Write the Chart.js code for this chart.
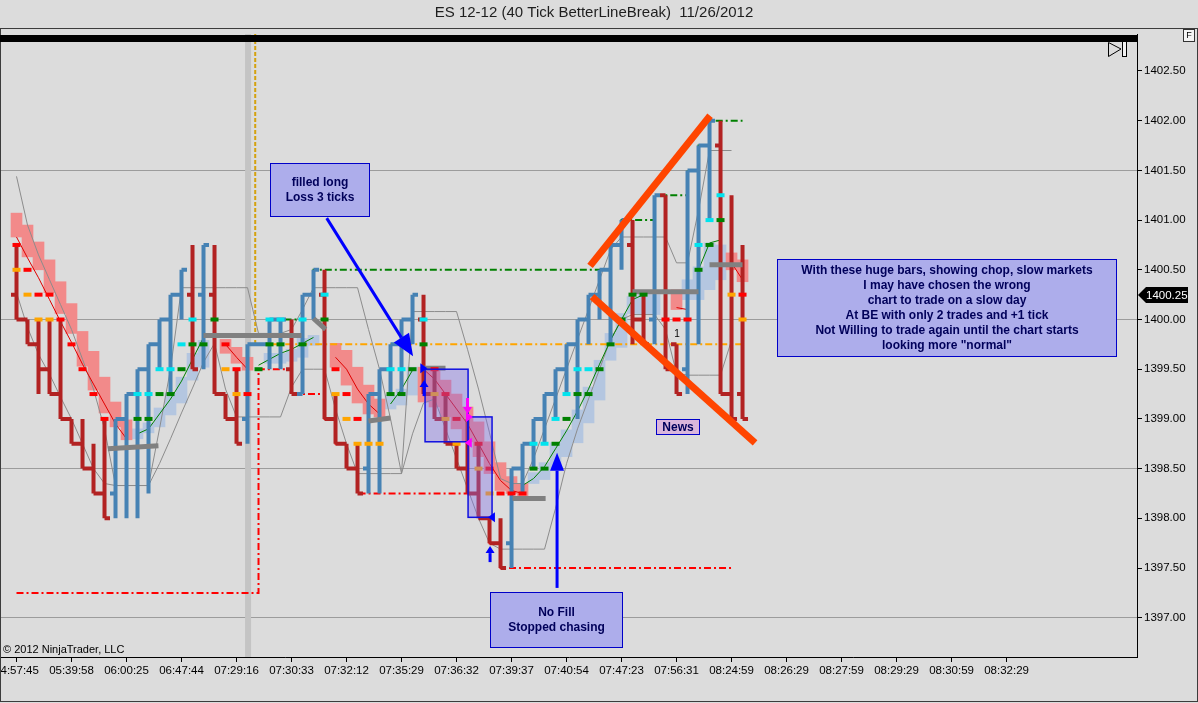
<!DOCTYPE html>
<html>
<head>
<meta charset="utf-8">
<title>ES 12-12 (40 Tick BetterLineBreak) 11/26/2012</title>
<script src="https://cdn.jsdelivr.net/npm/chart.js@4.4.1/dist/chart.umd.min.js"></script>
<style>
  html, body { margin: 0; padding: 0; background: #dcdcdc; }
  canvas { display: block; }
</style>
</head>
<body>
<canvas id="es-chart" width="1198" height="703"></canvas>
<script>
var chartTitle = 'ES 12-12 (40 Tick BetterLineBreak)  11/26/2012';

// axis labels, one every 5 bars
var timeLabels = ['04:57:45', '05:39:58', '06:00:25', '06:47:44', '07:29:16', '07:30:33', '07:32:12',
    '07:35:29', '07:36:32', '07:39:37', '07:40:54', '07:47:23', '07:56:31', '08:24:59', '08:26:29',
    '08:27:59', '08:29:29', '08:30:59', '08:32:29'];

// line break bars
var barOpen = [
    1400.25, 1400.00, 1399.75, 1399.50, 1399.25, 1399.00, 1398.75, 1398.50, 1398.25, 1398.25,
    1399.00, 1399.25, 1399.50, 1399.75, 1400.00, 1400.25, 1400.25, 1400.25, 1400.25, 1399.25,
    1399.00, 1399.00, 1399.75, 1399.75, 1400.00, 1399.50, 1399.25, 1400.25, 1400.25, 1399.00,
    1398.75, 1398.50, 1398.50, 1399.25, 1399.50, 1399.75, 1400.00, 1400.00, 1399.25, 1399.00,
    1398.75, 1398.50, 1398.25, 1398.00, 1397.75, 1397.75, 1398.50, 1398.75, 1399.00, 1399.25,
    1399.50, 1399.75, 1400.00, 1400.25, 1400.50, 1400.75, 1400.75, 1400.00, 1400.00, 1401.25,
    1399.75, 1399.50, 1401.50, 1401.75, 1401.75, 1399.25, 1399.25];
var barHigh = [
    1400.75, 1400.00, 1400.00, 1400.00, 1400.00, 1399.00, 1399.00, 1398.75, 1399.00, 1399.00,
    1399.25, 1399.50, 1399.75, 1400.00, 1400.25, 1400.50, 1400.75, 1400.75, 1400.75, 1399.25,
    1399.50, 1399.75, 1399.75, 1400.00, 1400.00, 1400.00, 1400.25, 1400.50, 1400.50, 1399.25,
    1398.75, 1398.75, 1399.25, 1399.50, 1399.75, 1400.00, 1400.25, 1400.25, 1399.50, 1399.25,
    1398.75, 1399.00, 1398.75, 1398.00, 1398.00, 1398.50, 1398.75, 1399.00, 1399.25, 1399.50,
    1399.75, 1400.00, 1400.25, 1400.50, 1400.75, 1401.00, 1401.00, 1400.25, 1401.25, 1401.25,
    1399.75, 1401.50, 1401.75, 1402.00, 1402.00, 1401.25, 1400.75];
var barLow = [
    1400.00, 1399.75, 1399.25, 1399.25, 1399.00, 1398.75, 1398.50, 1398.25, 1398.00, 1398.00,
    1398.00, 1398.00, 1398.25, 1399.50, 1399.25, 1400.00, 1399.50, 1399.50, 1399.25, 1399.00,
    1398.75, 1398.75, 1399.75, 1399.50, 1399.50, 1399.25, 1399.25, 1400.00, 1399.00, 1398.75,
    1398.50, 1398.25, 1398.25, 1398.25, 1399.25, 1399.25, 1399.75, 1399.25, 1399.00, 1398.75,
    1398.50, 1398.25, 1398.00, 1397.75, 1397.50, 1397.50, 1398.25, 1398.50, 1398.75, 1399.00,
    1399.25, 1399.00, 1399.75, 1400.00, 1399.75, 1400.50, 1399.75, 1399.75, 1399.75, 1399.50,
    1399.25, 1399.25, 1399.75, 1401.00, 1399.25, 1399.00, 1399.00];
var barClose = [
    1400.00, 1399.75, 1399.50, 1399.25, 1399.00, 1398.75, 1398.50, 1398.25, 1398.00, 1399.00,
    1399.25, 1399.50, 1399.75, 1400.00, 1400.25, 1400.50, 1399.50, 1400.75, 1399.25, 1399.00,
    1398.75, 1399.75, 1399.75, 1400.00, 1400.00, 1399.25, 1400.25, 1400.50, 1399.00, 1398.75,
    1398.50, 1398.25, 1399.25, 1399.50, 1399.75, 1400.00, 1400.25, 1399.25, 1399.00, 1398.75,
    1398.50, 1398.25, 1398.00, 1397.75, 1397.50, 1398.50, 1398.75, 1399.00, 1399.25, 1399.50,
    1399.75, 1400.00, 1400.25, 1400.50, 1400.75, 1401.00, 1400.00, 1399.75, 1401.25, 1399.50,
    1399.25, 1401.50, 1401.75, 1402.00, 1399.25, 1399.00, 1399.00];

// indicator state per bar: 1 long side, -1 short side
var trend = [
    -1, -1, -1, -1, -1, -1, -1, -1, -1, 1,
    1, 1, 1, 1, 1, 1, 1, 1, 1, -1,
    -1, -1, 1, 1, 1, 1, 1, 1, 1, -1,
    -1, -1, -1, -1, 1, 1, 1, 1, -1, -1,
    -1, -1, -1, -1, -1, -1, -1, 1, 1, 1,
    1, 1, 1, 1, 1, 1, 1, 1, 1, -1,
    -1, -1, 1, 1, 1, -1, -1];

// stop dashes (near one: cyan/orange, far one: green/red)
var stopNear = [
    1400.50, 1400.25, 1400.00, 1400.00, null, null, null, null, null, null,
    null, 1399.25, 1399.25, 1399.50, 1399.50, 1399.75, 1400.00, null, null, 1399.50,
    1399.25, null, null, 1400.00, 1400.00, null, 1400.00, null, 1400.25, 1399.25,
    1399.00, 1398.75, 1398.75, 1398.75, 1399.50, 1399.50, null, 1400.00, 1399.25, 1399.00,
    1398.75, null, 1398.50, 1398.25, null, null, null, 1398.75, 1398.75, 1399.00,
    1399.25, 1399.50, 1399.50, null, null, null, null, null, null, null,
    null, null, 1400.75, 1401.00, 1401.25, 1400.25, 1400.00];
var stopFar = [
    1400.75, 1400.50, 1400.25, 1400.25, 1400.00, 1399.75, 1399.50, 1399.25, 1399.00, null,
    null, 1399.00, 1399.00, 1399.25, 1399.25, 1399.50, 1399.75, 1399.75, 1400.00, 1399.75,
    1399.50, 1399.25, 1399.50, 1399.75, 1399.75, null, 1399.75, null, 1400.00, 1399.50,
    1399.25, 1399.00, null, null, 1399.25, 1399.25, 1399.50, 1399.75, 1399.50, 1399.25,
    1399.00, null, 1398.75, 1398.50, 1398.25, 1398.25, 1398.25, 1398.50, 1398.50, 1398.75,
    1399.00, 1399.25, 1399.25, 1399.50, 1399.75, 1400.00, 1400.25, 1400.25, null, 1400.00,
    1400.00, 1400.00, 1400.50, 1400.75, 1401.00, null, 1400.25];

// shaded trend blocks
var pinkLo = [
    1400.83, 1400.63, 1400.50, 1400.27, 1400.06, 1399.86, 1399.53, 1399.29, 1399.06, 1398.92,
    1398.79, null, null, null, null, null, null, null, null, 1399.66,
    1399.56, 1399.49, null, null, null, null, null, null, null, 1399.52,
    1399.34, 1399.16, 1399.05, 1399.02, null, null, null, 1399.17, 1399.12, 1399.02,
    1398.90, 1398.77, 1398.62, 1398.45, 1398.28, 1398.25, 1398.22, null, null, null,
    null, null, null, null, null, null, null, null, null, null,
    1400.10, null, null, null, null, 1400.50, 1400.38];
var pinkHi = [
    1401.07, 1400.95, 1400.78, 1400.60, 1400.38, 1400.16, 1399.88, 1399.68, 1399.42, 1399.17,
    1398.99, null, null, null, null, null, null, null, null, 1399.80,
    1399.72, 1399.62, null, null, null, null, null, null, null, 1399.76,
    1399.69, 1399.52, 1399.34, 1399.20, null, null, null, 1399.52, 1399.50, 1399.39,
    1399.25, 1399.12, 1398.97, 1398.77, 1398.56, 1398.42, 1398.35, null, null, null,
    null, null, null, null, null, null, null, null, null, null,
    1400.30, null, null, null, null, 1400.67, 1400.60];
var blueLo = [
    null, null, null, null, null, null, null, null, null, null,
    null, 1398.80, 1398.86, 1398.92, 1399.04, 1399.16, 1399.39, 1399.52, null, null,
    null, null, null, 1399.56, 1399.56, 1399.58, 1399.62, 1399.74, null, null,
    null, null, null, null, 1399.10, 1399.14, 1399.24, null, null, null,
    null, null, null, null, null, null, null, 1398.35, 1398.39, 1398.49,
    1398.62, 1398.76, 1398.96, 1399.19, 1399.59, 1399.72, 1400.06, 1400.05, 1400.05, null,
    null, 1400.20, 1400.20, 1400.30, 1400.40, null, null];
var blueHi = [
    null, null, null, null, null, null, null, null, null, null,
    null, 1398.90, 1398.96, 1399.11, 1399.26, 1399.42, 1399.66, 1399.79, null, null,
    null, null, null, 1399.66, 1399.66, 1399.70, 1399.81, 1399.84, null, null,
    null, null, null, null, 1399.24, 1399.30, 1399.52, null, null, null,
    null, null, null, null, null, null, null, 1398.46, 1398.56, 1398.76,
    1398.89, 1399.09, 1399.32, 1399.59, 1399.86, 1400.06, 1400.23, 1400.25, 1400.25, null,
    null, 1400.40, 1400.53, 1400.77, 1400.75, null, null];

// thin averages inside the blocks
var avgDown = [
    1400.83, 1400.62, 1400.42, 1400.20, 1399.98, 1399.77, 1399.55, 1399.35, 1399.15, 1398.95,
    1398.80, null, null, null, null, null, null, null, null, 1399.75,
    1399.62, 1399.50, null, null, null, null, null, null, null, 1399.62,
    1399.50, 1399.30, 1399.15, 1399.05, null, null, null, 1399.50, 1399.40, 1399.25,
    1399.10, 1398.95, 1398.75, 1398.55, 1398.38, 1398.28, 1398.25, null, null, null,
    null, null, null, null, null, null, null, null, null, null,
    1400.12, 1400.10, null, null, null, 1400.57, 1400.40];
var avgUp = [
    null, null, null, null, null, null, null, null, null, null,
    null, 1398.85, 1398.90, 1399.05, 1399.20, 1399.38, 1399.60, 1399.82, null, null,
    null, null, 1399.54, 1399.60, 1399.66, 1399.70, 1399.76, 1399.82, null, null,
    null, null, null, null, 1399.15, 1399.30, 1399.49, null, null, null,
    null, null, null, null, null, null, 1398.33, 1398.40, 1398.52, 1398.70,
    1398.88, 1399.08, 1399.30, 1399.55, 1399.79, 1400.00, 1400.20, 1400.25, null, null,
    null, null, 1400.50, 1400.77, 1400.80, null, null];

// thin grey channel
var bandUpper = [
    1401.44, 1400.95, 1400.65, 1400.40, 1400.15, 1399.90, 1399.60, 1399.30, 1398.90, 1398.33,
    1398.33, 1398.33, 1398.33, 1398.90, 1399.50, 1400.32, 1400.32, 1400.32, 1400.32, 1400.32,
    1400.32, 1400.32, 1399.86, 1399.86, 1399.86, 1399.90, 1400.10, 1400.32, 1400.32, 1400.32,
    1400.32, 1400.32, 1399.90, 1399.50, 1399.00, 1398.45, 1400.08, 1400.08, 1400.08, 1400.08,
    1400.08, 1399.70, 1399.30, 1398.86, 1398.40, 1398.35, 1398.35, 1398.60, 1398.90, 1399.20,
    1399.50, 1399.80, 1400.10, 1400.40, 1400.70, 1400.83, 1400.83, 1400.83, 1400.83, 1400.83,
    1400.57, 1400.57, 1401.10, 1401.70, 1401.70, 1401.70, null];
var bandLower = [
    1400.27, 1399.92, 1399.65, 1399.45, 1399.22, 1399.00, 1398.75, 1398.50, 1398.35, 1398.33,
    1398.33, 1398.33, 1398.33, 1398.55, 1398.80, 1399.06, 1399.31, 1399.57, 1399.76, 1399.30,
    1399.02, 1399.02, 1399.02, 1399.02, 1399.02, 1399.32, 1399.50, 1399.50, 1399.50, 1399.10,
    1398.75, 1398.45, 1398.45, 1398.45, 1398.45, 1398.45, 1398.85, 1399.16, 1399.20, 1398.90,
    1398.60, 1398.30, 1398.00, 1397.75, 1397.69, 1397.69, 1397.69, 1397.69, 1397.69, 1398.10,
    1398.55, 1398.90, 1399.20, 1399.50, 1399.80, 1400.00, 1400.05, 1400.05, 1400.05, 1399.90,
    1399.46, 1399.44, 1399.44, 1399.44, 1399.44, 1399.79, null];

// stepped highest high / lowest low
var highestHigh = [
    null, null, null, null, null, null, null, null, null, null,
    null, null, null, null, null, null, null, null, null, null,
    null, null, null, 1400.00, 1400.00, 1400.00, 1400.25, 1400.50, 1400.50, 1400.50,
    1400.50, 1400.50, 1400.50, 1400.50, 1400.50, 1400.50, 1400.50, 1400.50, 1400.50, 1400.50,
    1400.50, 1400.50, 1400.50, 1400.50, 1400.50, 1400.50, 1400.50, 1400.50, 1400.50, 1400.50,
    1400.50, 1400.50, 1400.50, 1400.50, 1400.75, 1401.00, 1401.00, 1401.00, 1401.25, 1401.25,
    1401.25, 1401.50, 1401.75, 1402.00, 1402.00, 1402.00, 1402.00];
var lowestLow = [
    1397.25, 1397.25, 1397.25, 1397.25, 1397.25, 1397.25, 1397.25, 1397.25, 1397.25, 1397.25,
    1397.25, 1397.25, 1397.25, 1397.25, 1397.25, 1397.25, 1397.25, 1397.25, 1397.25, 1397.25,
    1397.25, 1397.25, 1399.50, 1399.50, 1399.50, 1399.25, 1399.25, 1399.25, 1399.00, 1398.75,
    1398.50, 1398.25, 1398.25, 1398.25, 1398.25, 1398.25, 1398.25, 1398.25, 1398.25, 1398.25,
    1398.25, 1398.25, 1398.00, 1397.75, 1397.50, 1397.50, 1397.50, 1397.50, 1397.50, 1397.50,
    1397.50, 1397.50, 1397.50, 1397.50, 1397.50, 1397.50, 1397.50, 1397.50, 1397.50, 1397.50,
    1397.50, 1397.50, 1397.50, 1397.50, 1397.50, 1397.50, null];

// thick grey pivot marks
var pivotStart = [8.3, 17.0, 27.0, 32.0, 37.0, 45.1, 56.0, 63.0];
var pivotEnd = [12.9, 25.9, 28.1, 34.0, 39.0, 48.1, 62.0, 66.0];
var pivotFrom = [1398.70, 1399.84, 1400.01, 1398.98, 1399.51, 1398.20, 1400.28, 1400.55];
var pivotTo = [1398.73, 1399.84, 1399.90, 1399.01, 1399.51, 1398.20, 1400.28, 1400.55];

var entryLevel = 1399.75;
var lastPrice = 1400.25;
var sessionBar = 21.05;
var levelStartBar = 21.7;
var levelEndBar = 66;

// drawn objects, in bar / price units
var trendLines = [
    {x0: 52.14, y0: 1400.54, x1: 63.05, y1: 1402.05},
    {x0: 52.32, y0: 1400.23, x1: 67.14, y1: 1398.76}
];
var tradeBoxes = [
    {x0: 37.14, x1: 41.05, y0: 1399.50, y1: 1398.77},
    {x0: 41.05, x1: 43.23, y0: 1399.02, y1: 1398.01}
];
var notes = [
    {x0: 23.05, x1: 32.05, y0: 1401.574, y1: 1401.041, fill: '#adadeb', lines: ['filled long', 'Loss 3 ticks']},
    {x0: 43.05, x1: 55.05, y0: 1397.26, y1: 1396.705, fill: '#adadeb', lines: ['No Fill', 'Stopped chasing']},
    {x0: 58.14, x1: 62.05, y0: 1399.00, y1: 1398.85, fill: '#dab6dc', lines: ['News']},
    {x0: 69.14, x1: 99.95, y0: 1400.61, y1: 1399.63, fill: '#adadeb', lines: [
        'With these huge bars, showing chop, slow markets',
        'I may have chosen the wrong',
        'chart to trade on a slow day',
        'At BE with only 2 trades and +1 tick',
        'Not Willing to trade again until the chart starts',
        'looking more "normal"']}
];
var arrows = [
    {x0: 28.2, y0: 1401.02, x1: 36.05, y1: 1399.63, head: 22, half: 9},
    {x0: 49.14, y0: 1397.30, x1: 49.14, y1: 1398.66, head: 18, half: 7}
];
var marks = [
    {x: 37.05, y: 1399.30, shape: 'up', color: '#0000ff'},
    {x: 43.05, y: 1397.63, shape: 'up', color: '#0000ff'},
    {x: 41.0, y: 1399.14, shape: 'down', color: '#ff00ff'},
    {x: 40.95, y: 1399.02, shape: 'right', color: '#ff00ff'},
    {x: 41.3, y: 1398.76, shape: 'left', color: '#ff00ff'},
    {x: 36.8, y: 1399.51, shape: 'right', color: '#0000ff'},
    {x: 43.4, y: 1398.01, shape: 'left', color: '#0000ff'}
];
var tradeCount = {x: 60.05, y: 1399.85, text: '1'};

var xMin = -1.41, xMax = 101.86;
var yMin = 1396.605, yMax = 1402.872;
var gridBase = 1397, gridStep = 1.5;

var FONT = '"Liberation Sans", Arial, sans-serif';
Chart.defaults.font.family = FONT;
Chart.defaults.color = '#000';

function pts(arr) {
    return arr.map(function (v, i) { return {x: i, y: v}; });
}

function blocks(lo, hi) {
    var out = [];
    for (var i = 0; i < lo.length; i++) {
        if (lo[i] !== null) out.push({x: i, y: [lo[i], hi[i]]});
    }
    return out;
}

// open tick left, high-low line, close tick right
function ohlcPath(up) {
    var out = [];
    for (var i = 0; i < barOpen.length; i++) {
        if ((barClose[i] >= barOpen[i]) !== up) continue;
        out.push({x: i - 0.5, y: barOpen[i]}, {x: i, y: barOpen[i]}, {x: i, y: null});
        out.push({x: i, y: barHigh[i]}, {x: i, y: barLow[i]}, {x: i, y: null});
        out.push({x: i, y: barClose[i]}, {x: i + 0.5, y: barClose[i]}, {x: i + 0.5, y: null});
    }
    return out;
}

function lineSet(data, color, width, order, extra) {
    var ds = {type: 'line', data: data, borderColor: color, borderWidth: width, pointRadius: 0,
        pointHoverRadius: 0, pointHitRadius: 0, spanGaps: false, fill: false, order: order};
    for (var k in extra || {}) ds[k] = extra[k];
    return ds;
}

var datasets = [];
datasets.push(lineSet([{x: sessionBar, y: yMin}, {x: sessionBar, y: yMax}], '#c4c4c4', 6, 100));
datasets.push({type: 'bar', data: blocks(pinkLo, pinkHi), backgroundColor: '#f28a8a', borderWidth: 0,
    barPercentage: 1, categoryPercentage: 1, grouped: false, order: 90});
datasets.push({type: 'bar', data: blocks(blueLo, blueHi), backgroundColor: '#b4c6e0', borderWidth: 0,
    barPercentage: 1, categoryPercentage: 1, grouped: false, order: 90});
datasets.push(lineSet(pts(bandUpper), '#8c8c8c', 1, 85));
datasets.push(lineSet(pts(bandLower), '#8c8c8c', 1, 85));
datasets.push(lineSet(pts(avgDown), '#e00000', 1, 80));
datasets.push(lineSet(pts(avgUp), '#008000', 1, 80));
datasets.push(lineSet([{x: levelStartBar, y: yMax}, {x: levelStartBar, y: entryLevel}], '#d4a20f', 2, 60,
    {borderDash: [4, 2]}));
datasets.push(lineSet([{x: levelStartBar, y: entryLevel}, {x: levelEndBar, y: entryLevel}], '#ffa500', 2, 60,
    {borderDash: [7, 3, 2, 3]}));
datasets.push(lineSet(pts(highestHigh), '#008000', 2, 60, {stepped: 'before', borderDash: [7, 3, 2, 3]}));
datasets.push(lineSet(pts(lowestLow), '#ff0000', 2, 60, {stepped: 'before', borderDash: [7, 3, 2, 3]}));
datasets.push(lineSet(ohlcPath(true), '#4682b4', 4, 40));
datasets.push(lineSet(ohlcPath(false), '#b22222', 4, 40));
for (var p = 0; p < pivotStart.length; p++) {
    datasets.push(lineSet([{x: pivotStart[p], y: pivotFrom[p]}, {x: pivotEnd[p], y: pivotTo[p]}], '#808080', 5, 30));
}
datasets.push({type: 'line', data: pts(stopNear), showLine: false, pointStyle: 'line', pointRadius: 4,
    pointHoverRadius: 4, pointBorderWidth: 4, pointHitRadius: 0, order: 20,
    pointBorderColor: function (c) { return trend[c.dataIndex] > 0 ? '#00e4ee' : '#ffa500'; }});
datasets.push({type: 'line', data: pts(stopFar), showLine: false, pointStyle: 'line', pointRadius: 4,
    pointHoverRadius: 4, pointBorderWidth: 4, pointHitRadius: 0, order: 20,
    pointBorderColor: function (c) { return trend[c.dataIndex] > 0 ? '#008000' : '#ff0000'; }});
trendLines.forEach(function (t) {
    datasets.push(lineSet([{x: t.x0, y: t.y0}, {x: t.x1, y: t.y1}], '#ff4500', 7, 5));
});

function drawArrow(ctx, x0, y0, x1, y1, width, head, half, color) {
    var a = Math.atan2(y1 - y0, x1 - x0);
    var bx = x1 - head * Math.cos(a), by = y1 - head * Math.sin(a);
    ctx.strokeStyle = color;
    ctx.lineWidth = width;
    ctx.beginPath();
    ctx.moveTo(x0, y0);
    ctx.lineTo(bx, by);
    ctx.stroke();
    ctx.fillStyle = color;
    ctx.beginPath();
    ctx.moveTo(x1, y1);
    ctx.lineTo(bx + half * Math.sin(a), by - half * Math.cos(a));
    ctx.lineTo(bx - half * Math.sin(a), by + half * Math.cos(a));
    ctx.closePath();
    ctx.fill();
}

function drawMark(ctx, x, y, m) {
    ctx.fillStyle = m.color;
    ctx.beginPath();
    if (m.shape === 'up') {
        ctx.fillRect(x - 1.5, y - 2, 3, 9);
        ctx.moveTo(x, y - 9);
        ctx.lineTo(x - 4.5, y - 2);
        ctx.lineTo(x + 4.5, y - 2);
    } else if (m.shape === 'down') {
        ctx.fillRect(x - 1.5, y - 7, 3, 9);
        ctx.moveTo(x, y + 9);
        ctx.lineTo(x - 4.5, y + 2);
        ctx.lineTo(x + 4.5, y + 2);
    } else {
        var d = m.shape === 'right' ? 1 : -1;
        ctx.moveTo(x + 6 * d, y);
        ctx.lineTo(x - 1 * d, y - 5);
        ctx.lineTo(x - 1 * d, y + 5);
    }
    ctx.closePath();
    ctx.fill();
}

var chartNotes = {
    id: 'chartNotes',
    beforeDraw: function (chart) {
        var ctx = chart.ctx;
        ctx.save();
        ctx.fillStyle = '#dcdcdc';
        ctx.fillRect(0, 0, chart.width, chart.height);
        ctx.restore();
    },
    afterDatasetsDraw: function (chart) {
        var ctx = chart.ctx, sx = chart.scales.x, sy = chart.scales.y;
        function X(v) { return sx.getPixelForValue(v); }
        function Y(v) { return sy.getPixelForValue(v); }
        ctx.save();

        tradeBoxes.forEach(function (b) {
            var x0 = X(b.x0), x1 = X(b.x1), y0 = Y(b.y0), y1 = Y(b.y1);
            ctx.fillStyle = 'rgba(130,110,235,0.38)';
            ctx.fillRect(x0, y0, x1 - x0, y1 - y0);
            ctx.strokeStyle = '#1010e0';
            ctx.lineWidth = 1.5;
            ctx.strokeRect(x0, y0, x1 - x0, y1 - y0);
        });

        marks.forEach(function (m) { drawMark(ctx, X(m.x), Y(m.y), m); });

        ctx.fillStyle = '#000';
        ctx.font = '10px ' + FONT;
        ctx.textAlign = 'center';
        ctx.textBaseline = 'middle';
        ctx.fillText(tradeCount.text, X(tradeCount.x), Y(tradeCount.y));

        arrows.forEach(function (a) {
            drawArrow(ctx, X(a.x0), Y(a.y0), X(a.x1), Y(a.y1), 3, a.head, a.half, '#0000ff');
        });

        notes.forEach(function (n) {
            var x0 = Math.round(X(n.x0)) + 0.5, x1 = Math.round(X(n.x1)) + 0.5;
            var y0 = Math.round(Y(n.y0)) + 0.5, y1 = Math.round(Y(n.y1)) + 0.5;
            ctx.fillStyle = n.fill;
            ctx.fillRect(x0, y0, x1 - x0, y1 - y0);
            ctx.strokeStyle = '#0000c8';
            ctx.lineWidth = 1;
            ctx.strokeRect(x0, y0, x1 - x0, y1 - y0);
            ctx.fillStyle = '#00005a';
            ctx.font = 'bold 12px ' + FONT;
            ctx.textAlign = 'center';
            ctx.textBaseline = 'middle';
            var lh = 15, cx = (x0 + x1) / 2, cy = (y0 + y1) / 2 - (n.lines.length - 1) * lh / 2;
            n.lines.forEach(function (t, k) { ctx.fillText(t, cx, cy + k * lh + 0.5); });
        });
        ctx.restore();
    },
    afterDraw: function (chart) {
        var ctx = chart.ctx, area = chart.chartArea, sy = chart.scales.y;
        ctx.save();

        ctx.fillStyle = '#1e1e1e';
        ctx.font = '15px ' + FONT;
        ctx.textAlign = 'center';
        ctx.textBaseline = 'middle';
        ctx.fillText(chartTitle, 594, 13);

        ctx.strokeStyle = '#3c3c3c';
        ctx.lineWidth = 1;
        ctx.strokeRect(0.5, 28.5, chart.width - 1, chart.height - 30);

        // black strip across the top of the price panel
        ctx.fillStyle = '#000';
        ctx.fillRect(0, area.top + 1, area.right, 7);

        // scroll-to-end glyph
        ctx.strokeStyle = '#000';
        ctx.beginPath();
        ctx.moveTo(area.right - 28.5, area.top + 8.5);
        ctx.lineTo(area.right - 16, area.top + 15);
        ctx.lineTo(area.right - 28.5, area.top + 22.5);
        ctx.closePath();
        ctx.stroke();
        ctx.fillStyle = '#f0f0f0';
        ctx.fillRect(area.right - 14, area.top + 8, 3, 14);
        ctx.strokeRect(area.right - 14.5, area.top + 7.5, 4, 15);

        // "F" box
        ctx.fillStyle = '#f4f4f4';
        ctx.fillRect(chart.width - 15, 29, 12, 13);
        ctx.strokeStyle = '#333';
        ctx.strokeRect(chart.width - 14.5, 29.5, 11, 12);
        ctx.fillStyle = '#000';
        ctx.font = '9px ' + FONT;
        ctx.fillText('F', chart.width - 9, 36);

        // copyright
        ctx.textAlign = 'left';
        ctx.textBaseline = 'alphabetic';
        ctx.font = '11px ' + FONT;
        ctx.fillText('\u00a9 2012 NinjaTrader, LLC', 3, area.bottom - 4);

        // last price flag
        var y = Math.round(sy.getPixelForValue(lastPrice));
        var x = area.right + 1;
        ctx.fillStyle = '#000';
        ctx.beginPath();
        ctx.moveTo(x, y);
        ctx.lineTo(x + 8, y - 8);
        ctx.lineTo(x + 50, y - 8);
        ctx.lineTo(x + 50, y + 8);
        ctx.lineTo(x + 8, y + 8);
        ctx.closePath();
        ctx.fill();
        ctx.fillStyle = '#fff';
        ctx.font = '11.5px ' + FONT;
        ctx.textBaseline = 'middle';
        ctx.fillText(lastPrice.toFixed(2), x + 8, y + 1);
        ctx.restore();
    }
};

new Chart(document.getElementById('es-chart'), {
    type: 'line',
    data: {datasets: datasets},
    options: {
        responsive: false,
        animation: false,
        devicePixelRatio: 1,
        events: [],
        layout: {autoPadding: false, padding: {top: 34, left: 1, right: 0, bottom: 0}},
        plugins: {legend: {display: false}, tooltip: {enabled: false}},
        scales: {
            x: {
                type: 'linear',
                min: xMin,
                max: xMax,
                offset: false,
                grid: {
                    display: true, drawOnChartArea: false, drawTicks: true, tickLength: 5, offset: false,
                    tickColor: function (c) { return c.tick && c.tick.value <= 90 ? '#000' : 'rgba(0,0,0,0)'; }
                },
                border: {display: true, color: '#000', width: 1},
                ticks: {
                    stepSize: 5, includeBounds: false, autoSkip: false, maxRotation: 0, minRotation: 0,
                    padding: 2, color: '#000', font: {size: 11.5},
                    callback: function (v) { return timeLabels[Math.round(v / 5)] || ''; }
                },
                afterFit: function (s) { s.height = 46; s.paddingLeft = 0; s.paddingRight = 0; }
            },
            y: {
                type: 'linear',
                position: 'right',
                min: yMin,
                max: yMax,
                grid: {
                    drawTicks: true, tickLength: 5, tickColor: '#000', lineWidth: 1,
                    color: function (c) {
                        if (!c.tick) return 'rgba(0,0,0,0)';
                        var k = (c.tick.value - gridBase) / gridStep;
                        return Math.abs(k - Math.round(k)) < 1e-6 ? '#9c9c9c' : 'rgba(0,0,0,0)';
                    }
                },
                border: {display: true, color: '#000', width: 1},
                ticks: {
                    stepSize: 0.5, includeBounds: false, autoSkip: false, padding: 2, color: '#000',
                    font: {size: 11.5},
                    callback: function (v) { return v.toFixed(2); }
                },
                afterFit: function (s) { s.width = 61; s.paddingTop = 0; s.paddingBottom = 0; }
            }
        }
    },
    plugins: [chartNotes]
});
</script>
</body>
</html>
